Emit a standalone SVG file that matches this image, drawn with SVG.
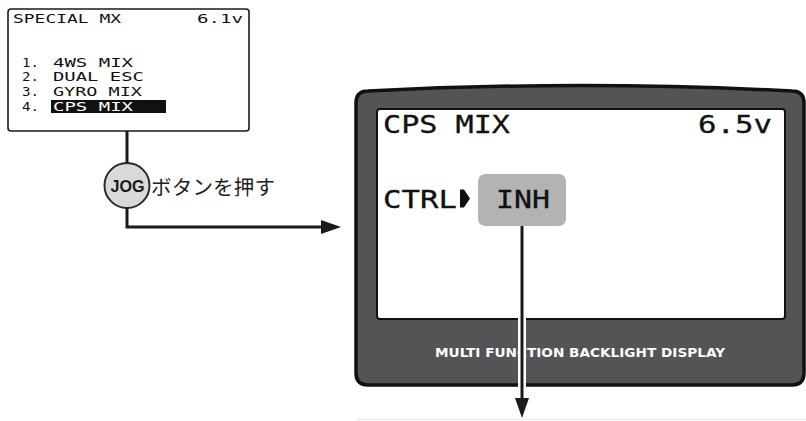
<svg xmlns="http://www.w3.org/2000/svg" width="806" height="421" viewBox="0 0 806 421">
<style>
.lcd{font-family:"DejaVu Sans Mono","Liberation Mono",monospace;fill:#111;}
.sm{font-size:12.5px;}
.big{font-size:25px;stroke:#111;stroke-width:0.3;}
.conn{fill:none;stroke:#1a1a1a;stroke-width:3;}
</style>
<defs>
<marker id="arr" markerUnits="userSpaceOnUse" markerWidth="20" markerHeight="14" viewBox="0 -7 20 14" refX="1" refY="0" orient="auto">
<path d="M0,-7 L20,0 L0,7 Z" fill="#1a1a1a"/>
</marker>
</defs>
<rect x="0" y="0" width="806" height="421" fill="#ffffff"/>
<g id="node-menu-screen">
<rect x="8" y="9" width="241" height="122" rx="3" fill="#fff" stroke="#1a1a1a" stroke-width="1.6"/>
<text class="lcd sm" x="13" y="22.5" textLength="108" lengthAdjust="spacingAndGlyphs">SPECIAL MX</text>
<text class="lcd sm" x="197" y="22.5" textLength="46" lengthAdjust="spacingAndGlyphs">6.1v</text>
<text class="lcd sm" x="22" y="66.5" textLength="17" lengthAdjust="spacingAndGlyphs">1.</text>
<text class="lcd sm" x="53" y="66.5" textLength="80" lengthAdjust="spacingAndGlyphs">4WS MIX</text>
<text class="lcd sm" x="22" y="81" textLength="17" lengthAdjust="spacingAndGlyphs">2.</text>
<text class="lcd sm" x="53" y="81" textLength="91" lengthAdjust="spacingAndGlyphs">DUAL ESC</text>
<text class="lcd sm" x="22" y="95.5" textLength="17" lengthAdjust="spacingAndGlyphs">3.</text>
<text class="lcd sm" x="53" y="95.5" textLength="89" lengthAdjust="spacingAndGlyphs">GYRO MIX</text>
<text class="lcd sm" x="22" y="110.5" textLength="17" lengthAdjust="spacingAndGlyphs">4.</text>
<rect x="51" y="100" width="115" height="13" fill="#111"/>
<text class="lcd sm" x="53" y="110.5" textLength="80" lengthAdjust="spacingAndGlyphs" style="fill:#fff">CPS MIX</text>
</g>
<g id="node-jog-button">
<circle cx="127" cy="185.5" r="22.5" fill="#d9d9d9" stroke="#2a2a2a" stroke-width="2"/>
<text x="127.5" y="192" text-anchor="middle" font-family="Liberation Sans, Arial, sans-serif" font-weight="bold" font-size="16.5" fill="#1a1a1a" textLength="34" lengthAdjust="spacingAndGlyphs">JOG</text>
<text x="151" y="195" font-family="Noto Sans CJK JP, sans-serif" font-size="20.5" fill="#231f20" textLength="124" lengthAdjust="spacing">ボタンを押す</text>
</g>
<g id="node-display">
<path d="M356,103 Q356,91 368,91 Q580,80 792,91 Q804,91 804,103 L804,373 Q804,385 792,385 L368,385 Q356,385 356,373 Z" fill="#545456" stroke="#111" stroke-width="3.5"/>
<rect x="377" y="109" width="408" height="210" rx="3" fill="#fff" stroke="#111" stroke-width="2"/>
<text class="lcd big" x="383" y="132.5" textLength="127" lengthAdjust="spacingAndGlyphs">CPS MIX</text>
<text class="lcd big" x="698" y="132.5" textLength="74" lengthAdjust="spacingAndGlyphs">6.5v</text>
<text class="lcd big" x="383" y="208" textLength="74" lengthAdjust="spacingAndGlyphs">CTRL</text>
<path d="M460,189.5 L464,189.5 L470,198.5 L464,207.5 L460,207.5 Z" fill="#111"/>
<rect x="478" y="174" width="88" height="52" rx="7" fill="#b3b3b3"/>
<text class="lcd big" x="496" y="208" textLength="54" lengthAdjust="spacingAndGlyphs">INH</text>
<text x="435" y="357" font-family="DejaVu Sans, sans-serif" font-weight="bold" font-size="12" fill="#fff" textLength="290" lengthAdjust="spacingAndGlyphs">MULTI FUNCTION BACKLIGHT DISPLAY</text>
</g>
<g id="connectors">
<path class="conn" d="M127,131 L127,163"/>
<path class="conn" d="M127,208 L127,227 L322,227" marker-end="url(#arr)"/>
<path d="M522,227 L522,398" fill="none" stroke="#fff" stroke-width="8"/>
<path class="conn" d="M522,226 L522,399" stroke-width="2.6" marker-end="url(#arr)"/>
</g>
<line x1="357" y1="419.5" x2="806" y2="419.5" stroke="#ececec" stroke-width="1"/>
</svg>
